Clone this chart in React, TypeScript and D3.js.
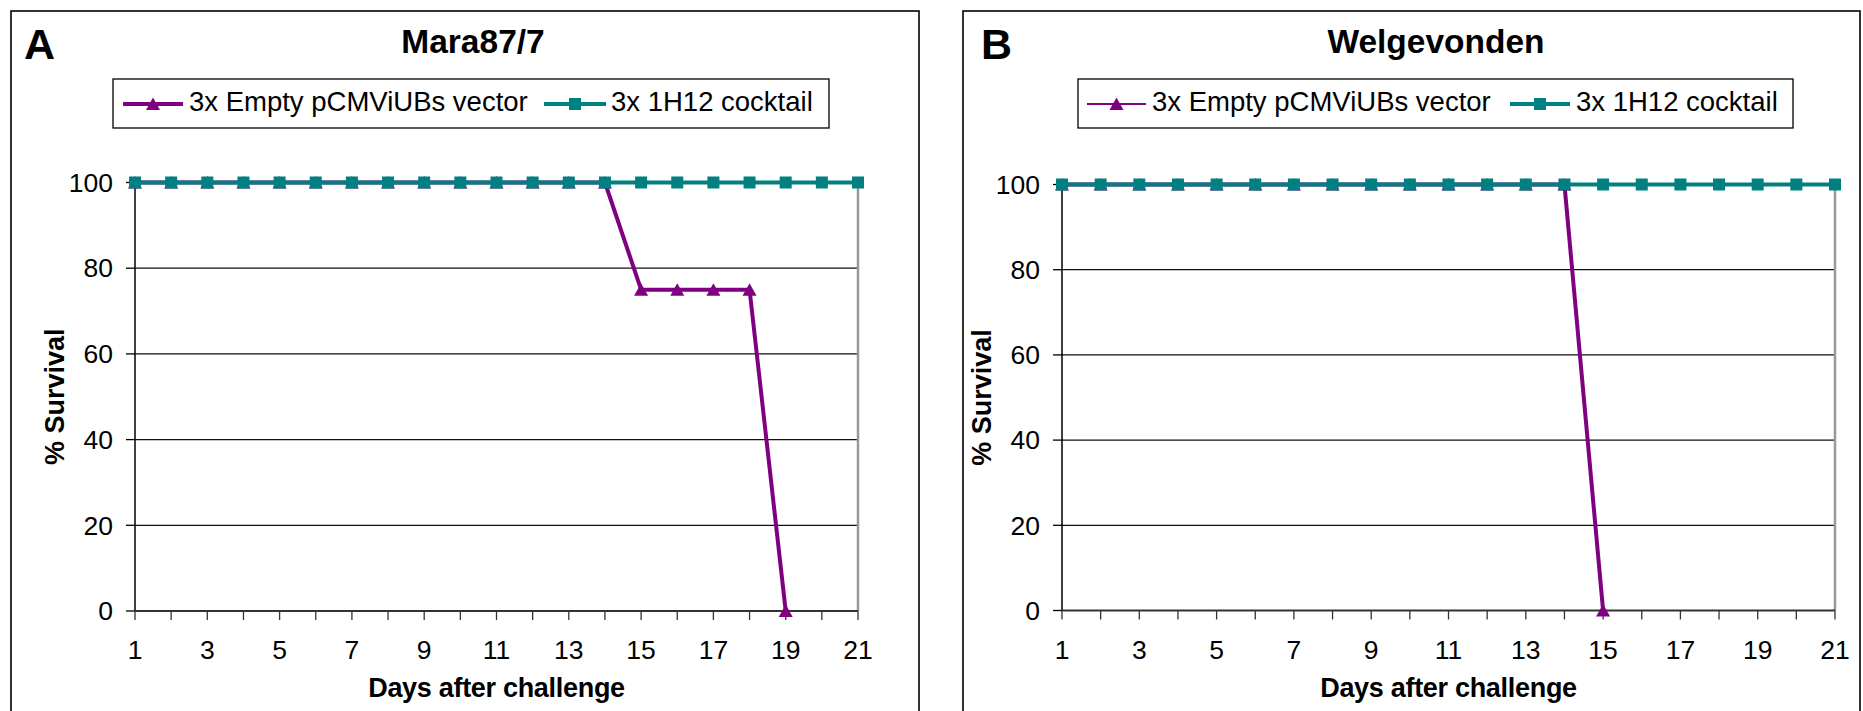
import React from "react";
import * as d3 from "d3";

const days = [1, 2, 3, 4, 5, 6, 7, 8, 9, 10, 11, 12, 13, 14, 15, 16, 17, 18, 19, 20, 21];
const dayLabels = [1, 3, 5, 7, 9, 11, 13, 15, 17, 19, 21];
const yTicks = [0, 20, 40, 60, 80, 100];

const maraEmpty = [100, 100, 100, 100, 100, 100, 100, 100, 100, 100, 100, 100, 100, 100, 75, 75, 75, 75, 0];
const mara1H12 = [100, 100, 100, 100, 100, 100, 100, 100, 100, 100, 100, 100, 100, 100, 100, 100, 100, 100, 100, 100, 100];
const welgEmpty = [100, 100, 100, 100, 100, 100, 100, 100, 100, 100, 100, 100, 100, 100, 0];
const welg1H12 = [100, 100, 100, 100, 100, 100, 100, 100, 100, 100, 100, 100, 100, 100, 100, 100, 100, 100, 100, 100, 100];

const seriesNames = ["3x Empty pCMViUBs vector", "3x 1H12 cocktail"];
const PURPLE = "#800080";
const TEAL = "#008080";
const FONT = "'Liberation Sans', Arial, sans-serif";

type PanelProps = {
  letter: string;
  title: string;
  empty: number[];
  cocktail: number[];
  frame: [number, number];
  plotX: [number, number];
  plotY: [number, number];
  letterX: number;
  titleX: number;
  legend: { box: [number, number]; l1: [number, number]; t1: number; l2: [number, number]; t2: number };
  emptyLegendWidth: number;
};

function Triangle({ x, y }: { x: number; y: number }) {
  const w = 7, h = 6.5;
  return <path d={`M${x},${y - h}L${x + w},${y + h - 0.5}L${x - w},${y + h - 0.5}Z`} fill={PURPLE} />;
}
function Square({ x, y }: { x: number; y: number }) {
  const s = 6;
  return <rect x={x - s} y={y - s} width={2 * s} height={2 * s} fill={TEAL} />;
}

function Panel(p: PanelProps) {
  const x = d3.scaleLinear().domain([1, 21]).range(p.plotX);
  const y = d3.scaleLinear().domain([0, 100]).range([p.plotY[1], p.plotY[0]]);
  const line = d3
    .line<number>()
    .x((_, i) => x(days[i]))
    .y((v) => y(v));
  const [pl, pr] = p.plotX;
  const [pt, pb] = p.plotY;
  const cx = (pl + pr) / 2;
  const cy = (pt + pb) / 2;
  const legY = 104;
  return (
    <g fontFamily={FONT}>
      <rect x={p.frame[0]} y={11} width={p.frame[1] - p.frame[0]} height={720} fill="#fff" stroke="#000" strokeWidth={1.6} />
      <text x={p.letterX} y={59} fontSize={43} fontWeight="bold">{p.letter}</text>
      <text x={p.titleX} y={53} fontSize={33.5} fontWeight="bold" textAnchor="middle">{p.title}</text>
      {/* legend */}
      <rect x={p.legend.box[0]} y={79} width={p.legend.box[1] - p.legend.box[0]} height={49} fill="#fff" stroke="#000" strokeWidth={1.3} />
      <line x1={p.legend.l1[0]} x2={p.legend.l1[1]} y1={legY} y2={legY} stroke={PURPLE} strokeWidth={p.emptyLegendWidth} />
      <Triangle x={(p.legend.l1[0] + p.legend.l1[1]) / 2} y={legY} />
      <text x={p.legend.t1} y={111} fontSize={27.5}>{seriesNames[0]}</text>
      <line x1={p.legend.l2[0]} x2={p.legend.l2[1]} y1={legY} y2={legY} stroke={TEAL} strokeWidth={4} />
      <Square x={(p.legend.l2[0] + p.legend.l2[1]) / 2} y={legY} />
      <text x={p.legend.t2} y={111} fontSize={27.5}>{seriesNames[1]}</text>
      {/* gridlines */}
      {yTicks.filter((t) => t > 0).map((t) => (
        <line key={t} x1={pl} x2={pr} y1={y(t)} y2={y(t)} stroke="#111" strokeWidth={1.2} />
      ))}
      {/* right border */}
      <line x1={pr} x2={pr} y1={pt} y2={pb} stroke="#999" strokeWidth={2.5} />
      {/* left axis */}
      <line x1={pl} x2={pl} y1={pt} y2={pb} stroke="#000" strokeWidth={1.5} />
      {yTicks.map((t) => (
        <g key={t}>
          <line x1={pl - 9} x2={pl} y1={y(t)} y2={y(t)} stroke="#000" strokeWidth={1.3} />
          <text x={pl - 22} y={y(t)} dy="0.35em" fontSize={26.5} textAnchor="end">{t}</text>
        </g>
      ))}
      {/* bottom axis */}
      <line x1={pl} x2={pr} y1={pb} y2={pb} stroke="#333" strokeWidth={2} />
      {days.map((d) => (
        <line key={d} x1={x(d)} x2={x(d)} y1={pb} y2={pb + 9} stroke="#333" strokeWidth={1.3} />
      ))}
      {dayLabels.map((d) => (
        <text key={d} x={x(d)} y={659} fontSize={26.5} textAnchor="middle">{d}</text>
      ))}
      <text x={cx} y={697} fontSize={27} fontWeight="bold" textAnchor="middle" letterSpacing={-0.3}>Days after challenge</text>
      <text transform={`translate(${pl - 71},${cy}) rotate(-90)`} fontSize={27} fontWeight="bold" textAnchor="middle">% Survival</text>
      {/* series */}
      <path d={line(p.empty) || ""} fill="none" stroke={PURPLE} strokeWidth={4} strokeLinejoin="round" />
      {p.empty.map((v, i) => (
        <Triangle key={i} x={x(days[i])} y={y(v)} />
      ))}
      <path d={line(p.cocktail) || ""} fill="none" stroke={TEAL} strokeWidth={4} />
      {p.cocktail.map((v, i) => (
        <Square key={i} x={x(days[i])} y={y(v)} />
      ))}
    </g>
  );
}

export default function App() {
  return (
    <svg width={1863} height={711} style={{ position: "absolute", left: 0, top: 0, display: "block" }}>
      <rect width={1863} height={711} fill="#fff" />
      <Panel
        letter="A"
        title="Mara87/7"
        empty={maraEmpty}
        cocktail={mara1H12}
        frame={[11, 919]}
        plotX={[135, 858]}
        plotY={[182.5, 611]}
        letterX={24}
        titleX={473}
        legend={{ box: [113, 829], l1: [123, 183], t1: 189, l2: [544, 606], t2: 611 }}
        emptyLegendWidth={4}
      />
      <Panel
        letter="B"
        title="Welgevonden"
        empty={welgEmpty}
        cocktail={welg1H12}
        frame={[963, 1860]}
        plotX={[1062, 1835]}
        plotY={[184.5, 610.5]}
        letterX={981}
        titleX={1436}
        legend={{ box: [1078, 1793], l1: [1087, 1146], t1: 1152, l2: [1510, 1570], t2: 1576 }}
        emptyLegendWidth={2}
      />
    </svg>
  );
}
